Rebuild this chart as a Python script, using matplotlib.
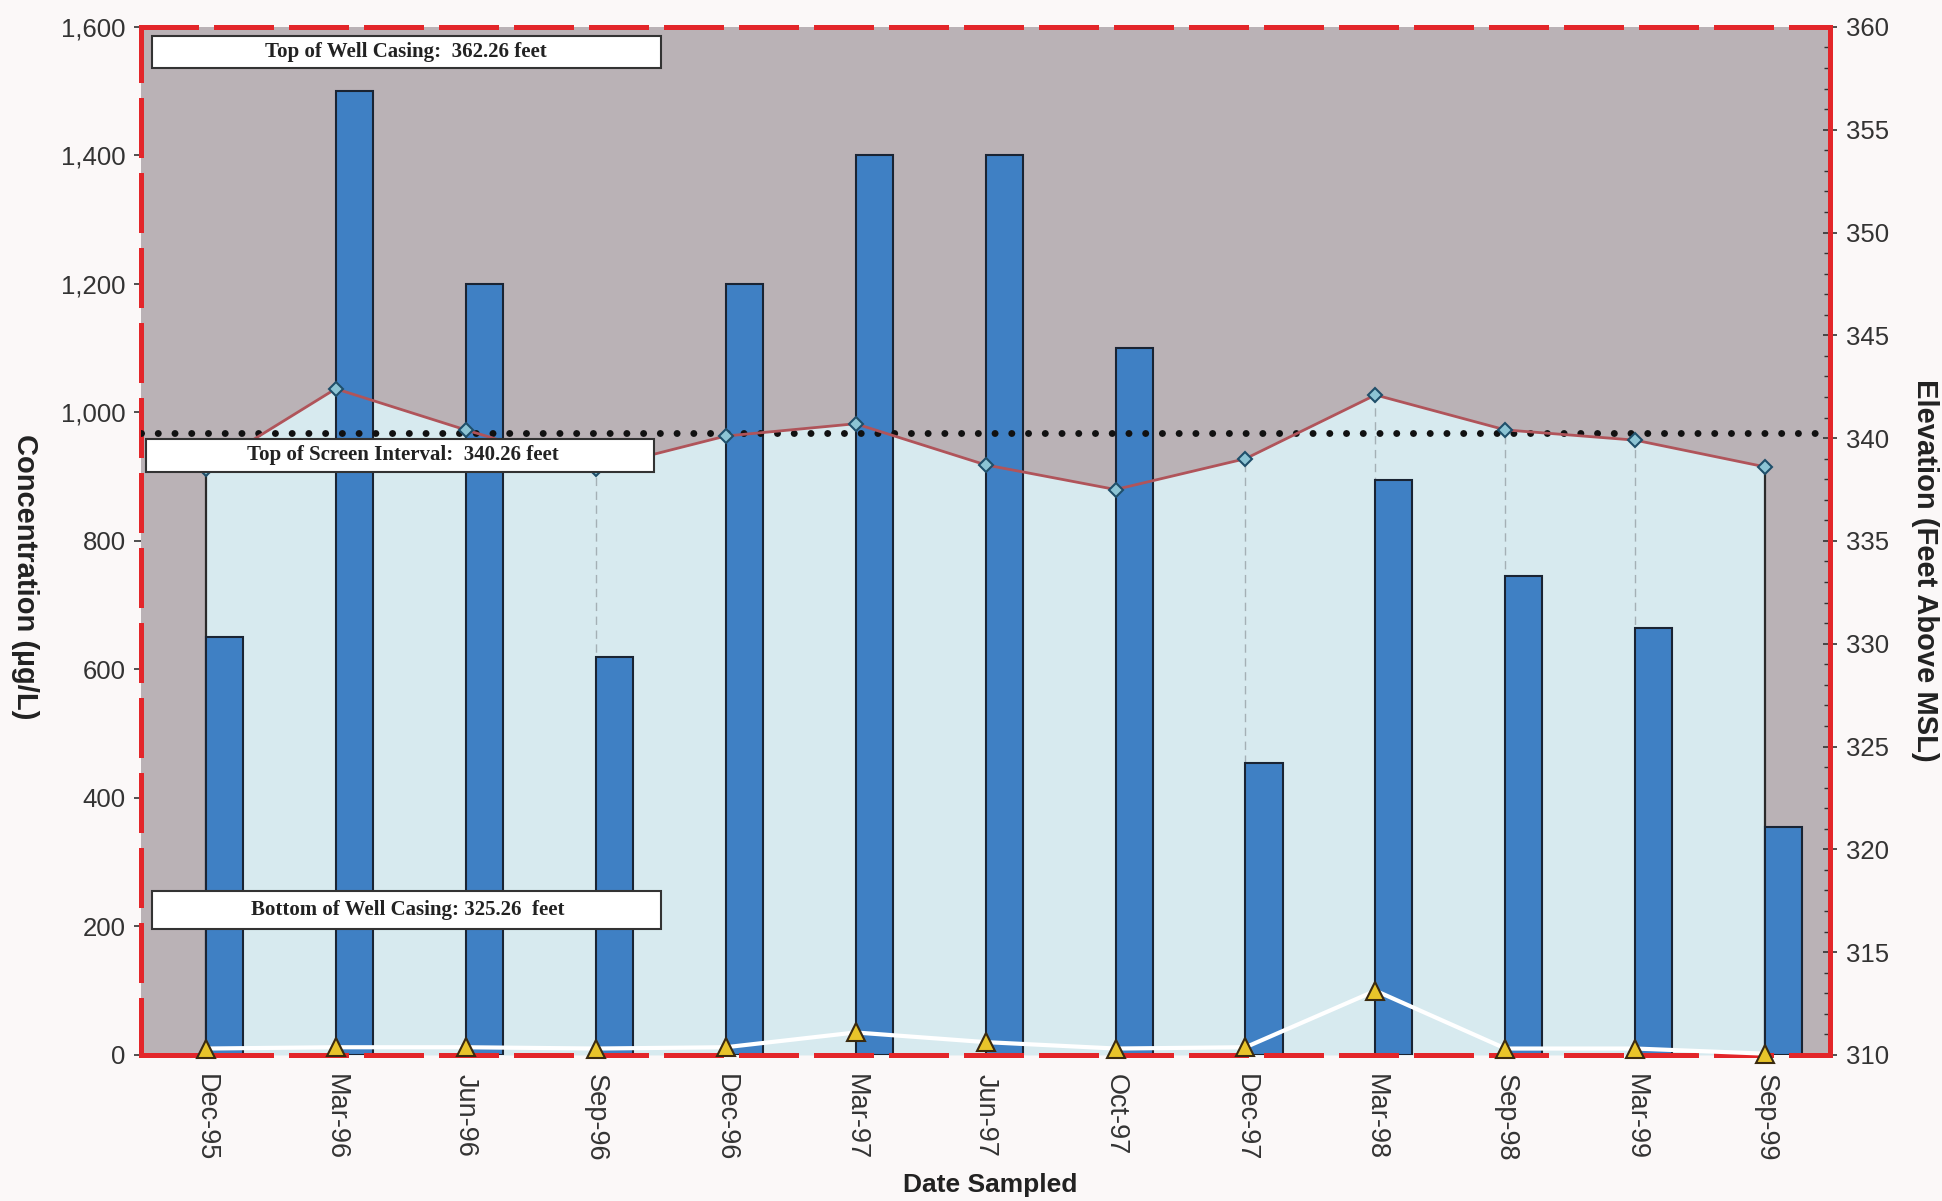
import numpy as np
import matplotlib.pyplot as plt
from matplotlib.patches import Rectangle
from matplotlib.ticker import FuncFormatter, MultipleLocator

# sample dates and values
dates = ['Dec-95', 'Mar-96', 'Jun-96', 'Sep-96', 'Dec-96', 'Mar-97', 'Jun-97',
         'Oct-97', 'Dec-97', 'Mar-98', 'Sep-98', 'Mar-99', 'Sep-99']
concentration = [650, 1500, 1200, 620, 1200, 1400, 1400, 1100, 455, 895, 745, 665, 355]
second_conc = [10, 12, 12, 10, 12, 35, 20, 10, 12, 100, 10, 10, 2]
elevation = [338.5, 342.4, 340.4, 338.5, 340.1, 340.7, 338.7, 337.5, 339.0,
             342.1, 340.4, 339.9, 338.6]

top_casing = 362.26
top_screen = 340.26
bottom_casing = 325.26

plt.rcParams['font.family'] = ['Liberation Sans', 'DejaVu Sans']

fig = plt.figure(figsize=(19.42, 12.01), dpi=100, facecolor='#fbf8f8')
ax = fig.add_axes([0.0725, 0.1216, 0.870, 0.856])
ax2 = ax.twinx()
# elevation axis sits behind, concentration bars on top
ax.set_zorder(ax2.get_zorder() + 1)
ax.patch.set_visible(False)
ax2.patch.set_visible(True)
ax2.set_facecolor('#bab2b6')

x = np.arange(len(dates))

ax2.fill_between(x, elevation, 310, color='#d7eaef', lw=0, zorder=1)
ax2.vlines(x[1:-1], 310, elevation[1:-1], colors='#a4b0b5', linestyles=(0, (6, 4)), lw=1, zorder=2)
ax2.vlines([x[0], x[-1]], 310, [elevation[0], elevation[-1]], colors='#2a2a2a', lw=1.6, zorder=2)

ax.bar(x, concentration, width=0.285, align='edge', color='#3f80c4',
       edgecolor='#1a2433', lw=1.5, zorder=2)

# water level + top of screen drawn in elevation units on the top axes
ax.plot([-0.5, 12.5], [top_screen, top_screen], transform=ax2.transData,
        color='#111111', lw=5, ls=(0, (0.01, 2.4)), dash_capstyle='round', zorder=3)
ax.plot(x, elevation, transform=ax2.transData, color='#b0545a', lw=2, zorder=4)
ax.plot(x, elevation, transform=ax2.transData, ls='none', marker='D', ms=7,
        mfc='#8cc4d4', mec='#1f4f6a', mew=1.5, zorder=5)

ax.plot(x, second_conc, color='white', lw=3, zorder=5, clip_on=False)
ax.plot(x, second_conc, ls='none', marker='^', ms=13, mfc='#e8c42a',
        mec='#3a2a10', mew=1.5, zorder=6, clip_on=False)

ax.set_xlim(-0.5, 12.5)
ax.set_ylim(0, 1600)
ax2.set_ylim(310, 360)

ax.set_yticks(range(0, 1601, 200))
ax.yaxis.set_major_formatter(FuncFormatter(lambda v, p: '{:,.0f}'.format(v)))
ax.tick_params(axis='y', length=5, width=1.2, color='#333333', labelsize=18.5,
               labelcolor='#333333', pad=6)
ax.set_xticks(x)
ax.set_xticklabels(dates, rotation=270, fontsize=19.5, color='#333333')
ax.tick_params(axis='x', length=0, pad=14)

ax2.yaxis.set_major_locator(MultipleLocator(5))
ax2.yaxis.set_minor_locator(MultipleLocator(1))
ax2.tick_params(axis='y', which='major', direction='inout', length=10, width=1.2,
                color='#333333', labelsize=18.5, labelcolor='#333333', pad=6)
ax2.tick_params(axis='y', which='minor', direction='in', length=4, width=1, color='#333333')

# red border
for s in ['left', 'top', 'bottom']:
    ax.spines[s].set_color('#e3262a')
    ax.spines[s].set_linewidth(3.6)
    ax.spines[s].set_linestyle((0, (11, 4)))
ax.spines['right'].set_visible(False)
for s in ['left', 'top', 'bottom']:
    ax2.spines[s].set_visible(False)
ax2.spines['right'].set_color('#e3262a')
ax2.spines['right'].set_linewidth(3.6)

# label boxes
boxes = [
    (0.0066, 0.960, 0.3011, 0.0316, 0.157, 'Top of Well Casing:  %.2f feet' % top_casing),
    (0.0029, 0.5675, 0.3011, 0.0313, 0.155, 'Top of Screen Interval:  %.2f feet' % top_screen),
    (0.0066, 0.1229, 0.3011, 0.0361, 0.158, 'Bottom of Well Casing: %.2f  feet' % bottom_casing),
]
for bx, by, bw, bh, tx, txt in boxes:
    ax.add_patch(Rectangle((bx, by), bw, bh, transform=ax.transAxes, fc='white',
                           ec='#333333', lw=1.5, zorder=7, clip_on=False))
    ax.text(tx, by + bh / 2, txt, transform=ax.transAxes, ha='center', va='center',
            family='Liberation Serif', fontweight='bold', fontsize=15,
            color='#222222', zorder=8)

fig.text(0.0128, 0.52, 'Concentration (µg/L)', rotation=270, ha='center', va='center',
         fontsize=21, fontweight='bold', color='#222222')
fig.text(0.9915, 0.525, 'Elevation (Feet Above MSL)', rotation=270, ha='center', va='center',
         fontsize=21, fontweight='bold', color='#222222')
fig.text(0.510, 0.0133, 'Date Sampled', ha='center', va='center',
         fontsize=19, fontweight='bold', color='#222222')

fig.savefig('out.png', dpi=100, facecolor=fig.get_facecolor())
